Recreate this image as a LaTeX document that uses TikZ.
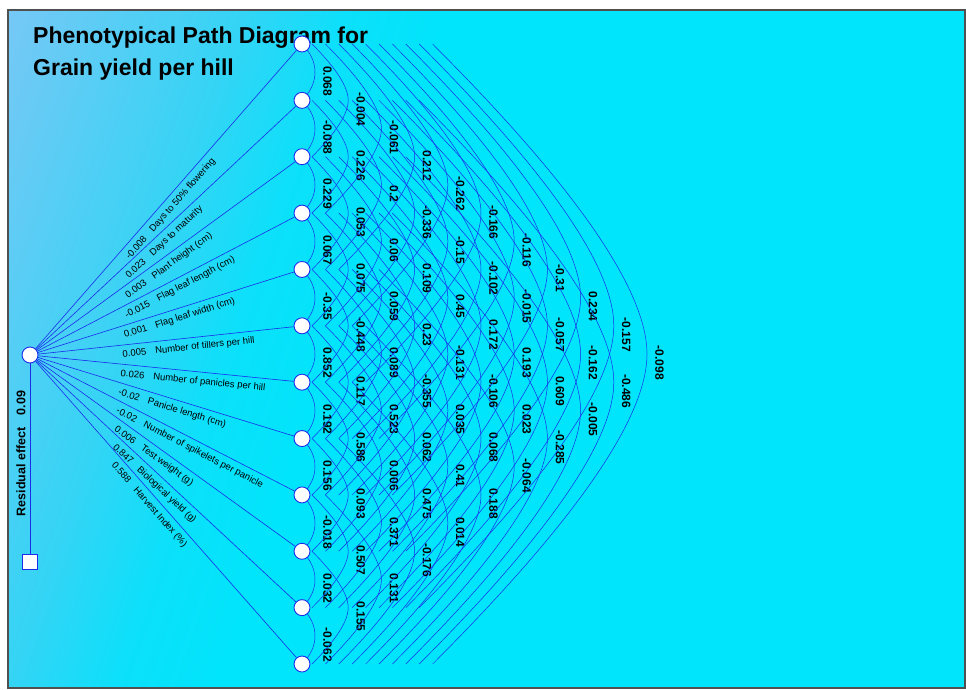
\documentclass[tikz,border=0pt]{standalone}
\usepackage{fontspec}
\setmainfont{Liberation Sans}
\usetikzlibrary{calc}
\definecolor{bgL}{RGB}{118,200,245}
\definecolor{bgM}{RGB}{52,212,245}
\definecolor{bgN}{RGB}{12,224,250}
\definecolor{bgR}{RGB}{0,229,252}
\definecolor{lnblue}{RGB}{25,45,235}
\definecolor{framegray}{RGB}{80,80,80}
\pgfdeclarehorizontalshading{bgshade}{100bp}{color(0bp)=(bgL); color(22bp)=(bgL); color(33bp)=(bgM); color(38bp)=(bgN); color(43bp)=(bgR); color(100bp)=(bgR)}
\pgfdeclarelayer{bg}
\pgfdeclarelayer{mid}
\pgfsetlayers{bg,mid,main}
\begin{document}
\begin{tikzpicture}[x=1pt,y=-1pt,
  dot/.style={circle,draw=lnblue,fill=white,line width=0.9pt,minimum size=16pt,inner sep=0pt},
  resbox/.style={rectangle,draw=lnblue,fill=white,line width=0.9pt,minimum size=15pt,inner sep=0pt},
  link/.style={draw=lnblue,line width=0.6pt},
  arcline/.style={draw=lnblue,line width=0.5pt},
  lbl/.style={font=\fontsize{9.5}{11}\selectfont,inner xsep=0pt,inner ysep=5pt,text=black},
  corr/.style={font=\fontsize{12}{14}\selectfont\bfseries,rotate=-90,inner sep=0pt},
  titlefont/.style={font=\fontsize{23}{28}\selectfont\bfseries,inner sep=0pt,anchor=base west},
]
\useasboundingbox (0,0) rectangle (966,690);
\begin{pgfonlayer}{bg}
\fill[white] (0,0) rectangle (966,690);
\begin{scope}
\clip (8,10) rectangle (965,688);
\shade[shading=bgshade,shading angle=-19] (-13.5,-151) rectangle (986.5,849);
\end{scope}
\end{pgfonlayer}
\draw[framegray, line width=1.2pt] (8,10) rectangle (965,688);

% title
\node[titlefont] (title1) at (33,43.3) {Phenotypical Path Diagram for};
\node[titlefont] (title2) at (33,76) {Grain yield per hill};

% nodes
\foreach \i in {1,...,12} \node[dot] (n\i) at (302,{44+56.364*(\i-1)}) {};
\node[dot] (src) at (30,355) {};
\node[resbox] (res) at (30,562) {};

% direct effects
\foreach \i/\v/\nm in {1/-0.008/{Days to 50\% flowering},2/0.023/{Days to maturity},3/0.003/{Plant height (cm)},4/-0.015/{Flag leaf length (cm)},5/0.001/{Flag leaf width (cm)},6/0.005/{Number of tillers per hill},7/0.026/{Number of panicles per hill},8/-0.02/{Panicle length (cm)},9/-0.02/{Number of spikelets per panicle},10/0.006/{Test weight (g)},11/0.847/{Biological yield (g)},12/0.588/{Harvest Index (\%)}}{
  \draw[link] (src) -- (n\i) node[lbl,pos=0.325,sloped,anchor=north west] {\v\hspace{9pt}\nm};
}

% residual
\draw[link] (src) -- (res);
\node[rotate=90,font=\fontsize{12.5}{14}\selectfont\bfseries,inner sep=0pt] (reslbl) at (21,453.5) {Residual effect\hspace{12pt}0.09};

% correlations
\begin{pgfonlayer}{mid}
\foreach \k/\vals in {
  1/{0.068,-0.088,0.229,0.067,-0.35,0.852,0.192,0.156,-0.018,0.032,-0.062},
  2/{-0.004,0.226,0.053,0.075,-0.448,0.117,0.586,0.093,0.507,0.155},
  3/{-0.061,0.2,0.06,0.059,0.089,0.523,0.006,0.371,0.131},
  4/{0.212,-0.336,0.109,0.23,-0.355,0.062,0.475,-0.176},
  5/{-0.262,-0.15,0.45,-0.131,0.035,0.41,0.014},
  6/{-0.166,-0.102,0.172,-0.106,0.068,0.188},
  7/{-0.116,-0.015,0.193,0.023,-0.064},
  8/{-0.31,-0.057,0.609,-0.285},
  9/{0.234,-0.162,-0.005},
  10/{-0.157,-0.486},
  11/{-0.098}}{
  \foreach \v [count=\i] in \vals {
    \pgfmathtruncatemacro\jj{\i+\k}
    \pgfmathsetmacro\myxs{\k==1 ? 0 : -3.4+13.4*(\k-1)}
    \pgfmathsetmacro\myxp{13+33.2*(\k-1)}
    \pgfmathsetmacro\myc{2/3*(\myxp-\myxs)}
    \pgfmathsetmacro\myhalf{28.182*\k}
    \pgfmathsetmacro\myt{2/3*(\myhalf-(\myxp-\myxs))}
    \draw[arcline] ($(n\i)+(\myxs,0)$) .. controls ($(n\i)+(\myxs+\myc,\myc)$) and ($(n\i)+(\myxp,\myhalf-\myt)$) .. ($(n\i)+(\myxp,\myhalf)$) .. controls ($(n\i)+(\myxp,\myhalf+\myt)$) and ($(n\jj)+(\myxs+\myc,-\myc)$) .. ($(n\jj)+(\myxs,0)$);
    \node[corr] at ($(n\i)+({25.5+33.2*(\k-1)},\myhalf+9)$) {\v};
  }
}
\end{pgfonlayer}
\end{tikzpicture}
\end{document}
